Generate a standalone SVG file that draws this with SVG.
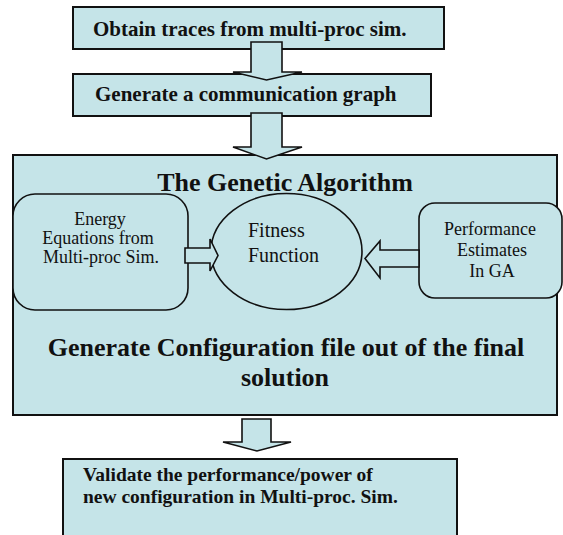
<svg xmlns="http://www.w3.org/2000/svg" width="563" height="535" viewBox="0 0 563 535">
<style>
.box{fill:#c5e4e8;stroke:#111;stroke-width:2}
.rbox{fill:#c5e4e8;stroke:#111;stroke-width:1.6}
.arr{fill:#c5e4e8;stroke:#111;stroke-width:1.6;stroke-linejoin:miter}
.b{font-family:"Liberation Serif","Times New Roman",serif;font-weight:bold;fill:#111}
.n{font-family:"Liberation Serif","Times New Roman",serif;fill:#111}
</style>
<rect width="563" height="535" fill="#fff"/>
<g id="n1"><rect class="box" x="73" y="7" width="371" height="42"/><text class="b" x="93" y="36" font-size="21">Obtain traces from multi-proc sim.</text></g>
<g id="n2"><rect class="box" x="73" y="74" width="358" height="42"/><text class="b" x="95" y="101" font-size="21">Generate a communication graph</text></g>
<g id="n3"><rect class="box" x="13" y="155" width="544" height="260"/>
<text class="b" x="285" y="191" font-size="26" text-anchor="middle">The Genetic Algorithm</text>
<text class="b" x="286" y="356" font-size="26" text-anchor="middle">Generate Configuration file out of the final</text>
<text class="b" x="285" y="386" font-size="26" text-anchor="middle">solution</text></g>
<g id="n4"><rect class="rbox" x="13" y="194" width="175" height="116" rx="22"/>
<text class="n" font-size="18" text-anchor="middle"><tspan x="100" y="225">Energy</tspan><tspan x="98" y="244">Equations from</tspan><tspan x="101" y="263">Multi-proc Sim.</tspan></text></g>
<g id="n5"><ellipse class="rbox" cx="286.5" cy="251.5" rx="75.5" ry="58"/>
<text class="n" font-size="20"><tspan x="248" y="237">Fitness</tspan><tspan x="248" y="262">Function</tspan></text></g>
<g id="n6"><rect class="rbox" x="419" y="203" width="143" height="95" rx="16"/>
<text class="n" font-size="18" text-anchor="middle"><tspan x="490" y="235">Performance</tspan><tspan x="492" y="256">Estimates</tspan><tspan x="492" y="277">In GA</tspan></text></g>
<g id="n7"><rect class="box" x="63" y="459" width="394" height="90"/>
<text class="b" font-size="19.5"><tspan x="83" y="481">Validate the performance/power of</tspan><tspan x="83" y="503">new configuration in Multi-proc. Sim.</tspan></text></g>
<g id="connectors">
<polygon class="arr" points="251,42 282,42 282,72 302,72 266.5,80 233,72 251,72"/>
<polygon class="arr" points="251,113 282,113 282,147 302,147 266.5,159 233,147 251,147"/>
<polygon class="arr" points="185,248 210,248 210,239 218,255.5 210,271 210,263 185,263"/>
<polygon class="arr" points="419,250 380,250 380,241 365,258.5 380,278 380,267 419,267"/>
<polygon class="arr" points="242,419 271,419 271,442 291,442 257,451 223,442 242,442"/>
</g>
</svg>
